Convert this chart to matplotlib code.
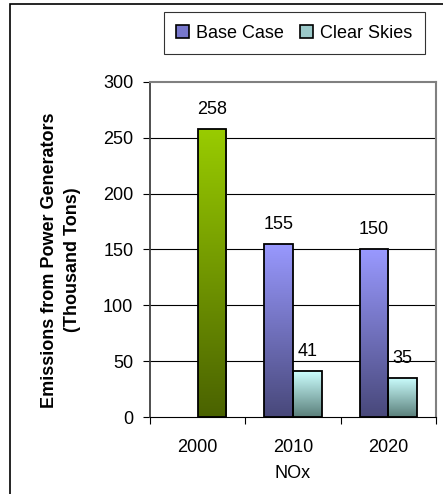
import numpy as np
import matplotlib
matplotlib.use("Agg")
import matplotlib.pyplot as plt
from matplotlib.colors import LinearSegmentedColormap
from matplotlib.patches import Rectangle

plt.rcParams['font.family'] = ['Liberation Sans', 'DejaVu Sans']

# NOx emissions from power generators (thousand tons)
years = ['2000', '2010', '2020']
base_case = [np.nan, 155, 150]
clear_skies = [np.nan, 41, 35]
actual_2000 = 258

# top / bottom colours of the bar gradients
blue = ('#9999ff', '#48487a')
cyan = ('#ccffff', '#5a7f7a')
green = ('#99cc00', '#4a6200')

FS = 13
W, H = 443, 494
fig = plt.figure(figsize=(W / 100, H / 100), dpi=100)
ax = fig.add_axes([150 / W, 1 - 417 / H, 286 / W, 335 / H])

width = 0.30
x = np.arange(len(years))


def gradient_bars(bars, colors):
    cmap = LinearSegmentedColormap.from_list('g', [colors[1], colors[0]])
    grad = np.linspace(0, 1, 256).reshape(-1, 1)
    for b in bars:
        h = b.get_height()
        if not np.isfinite(h) or h == 0:
            continue
        x0 = b.get_x()
        im = ax.imshow(grad, cmap=cmap, origin='lower', aspect='auto',
                       extent=(x0, x0 + b.get_width(), 0, h), zorder=2)
        im.set_clip_path(b)


b1 = ax.bar(x - width / 2, base_case, width, facecolor='none', edgecolor='black',
            linewidth=1.3, zorder=3, label='Base Case')
b2 = ax.bar(x + width / 2, clear_skies, width, facecolor='none', edgecolor='black',
            linewidth=1.3, zorder=3, label='Clear Skies')
b0 = ax.bar([x[0] + width / 2], [actual_2000], width, facecolor='none',
            edgecolor='black', linewidth=1.3, zorder=3)
gradient_bars(b1, blue)
gradient_bars(b2, cyan)
gradient_bars(b0, green)

# value labels above the bars
for bars in (b0, b1, b2):
    for b in bars:
        h = b.get_height()
        if np.isfinite(h):
            ax.annotate(f'{h:.0f}', (b.get_x() + b.get_width() / 2, h),
                        xytext=(0, 8), textcoords='offset points',
                        ha='center', va='bottom', fontsize=FS)

ax.set_xlim(-0.5, 2.5)
ax.set_ylim(0, 300)
ax.set_yticks(range(0, 301, 50))
ax.set_xticks([-0.5, 0.5, 1.5, 2.5])
ax.set_xticklabels([])
ax.set_xticks(x, minor=True)
ax.set_xticklabels(years, minor=True)
ax.tick_params(axis='x', which='major', direction='out', length=5, width=0.8)
ax.tick_params(axis='x', which='minor', length=0, pad=16, labelsize=FS)
ax.tick_params(axis='y', direction='out', length=5, width=0.8, pad=7, labelsize=FS)
ax.set_xlabel('NOx', fontsize=FS, labelpad=6)

for y in range(50, 300, 50):
    ax.axhline(y, color='black', linewidth=0.8, zorder=1)
for s in ('top', 'right'):
    ax.spines[s].set_color('#808080')
    ax.spines[s].set_linewidth(1.5)
ax.spines['left'].set_color('#404040')
ax.spines['left'].set_linewidth(1.3)
ax.spines['bottom'].set_linewidth(0.8)

fig.text(61 / W, 1 - 260 / H, 'Emissions from Power Generators\n(Thousand Tons)',
         rotation=90, ha='center', va='center', fontsize=FS, fontweight='bold',
         linespacing=1.45)

# legend with patches carrying the mid tone of each gradient
handles = [Rectangle((0, 0), 1, 1, facecolor='#7777cc', edgecolor='black', linewidth=1.2),
           Rectangle((0, 0), 1, 1, facecolor='#9ccaca', edgecolor='black', linewidth=1.2)]
leg = fig.legend(handles, ['Base Case', 'Clear Skies'], ncol=2,
                 loc='upper right', bbox_to_anchor=(425 / W, 1 - 12 / H),
                 borderaxespad=0, frameon=True, fancybox=False, fontsize=FS,
                 handlelength=0.7, handleheight=0.7, handletextpad=0.4,
                 columnspacing=0.9, borderpad=0.7)
leg.get_frame().set_edgecolor('black')
leg.get_frame().set_linewidth(0.8)

# outer chart border (left and top edges show)
fig.patches.append(Rectangle((10 / W, -0.1), 1.2, 1 - 4 / H + 0.1,
                             transform=fig.transFigure, fill=False,
                             edgecolor='black', linewidth=1.2))

fig.savefig('out.png', dpi=100)
